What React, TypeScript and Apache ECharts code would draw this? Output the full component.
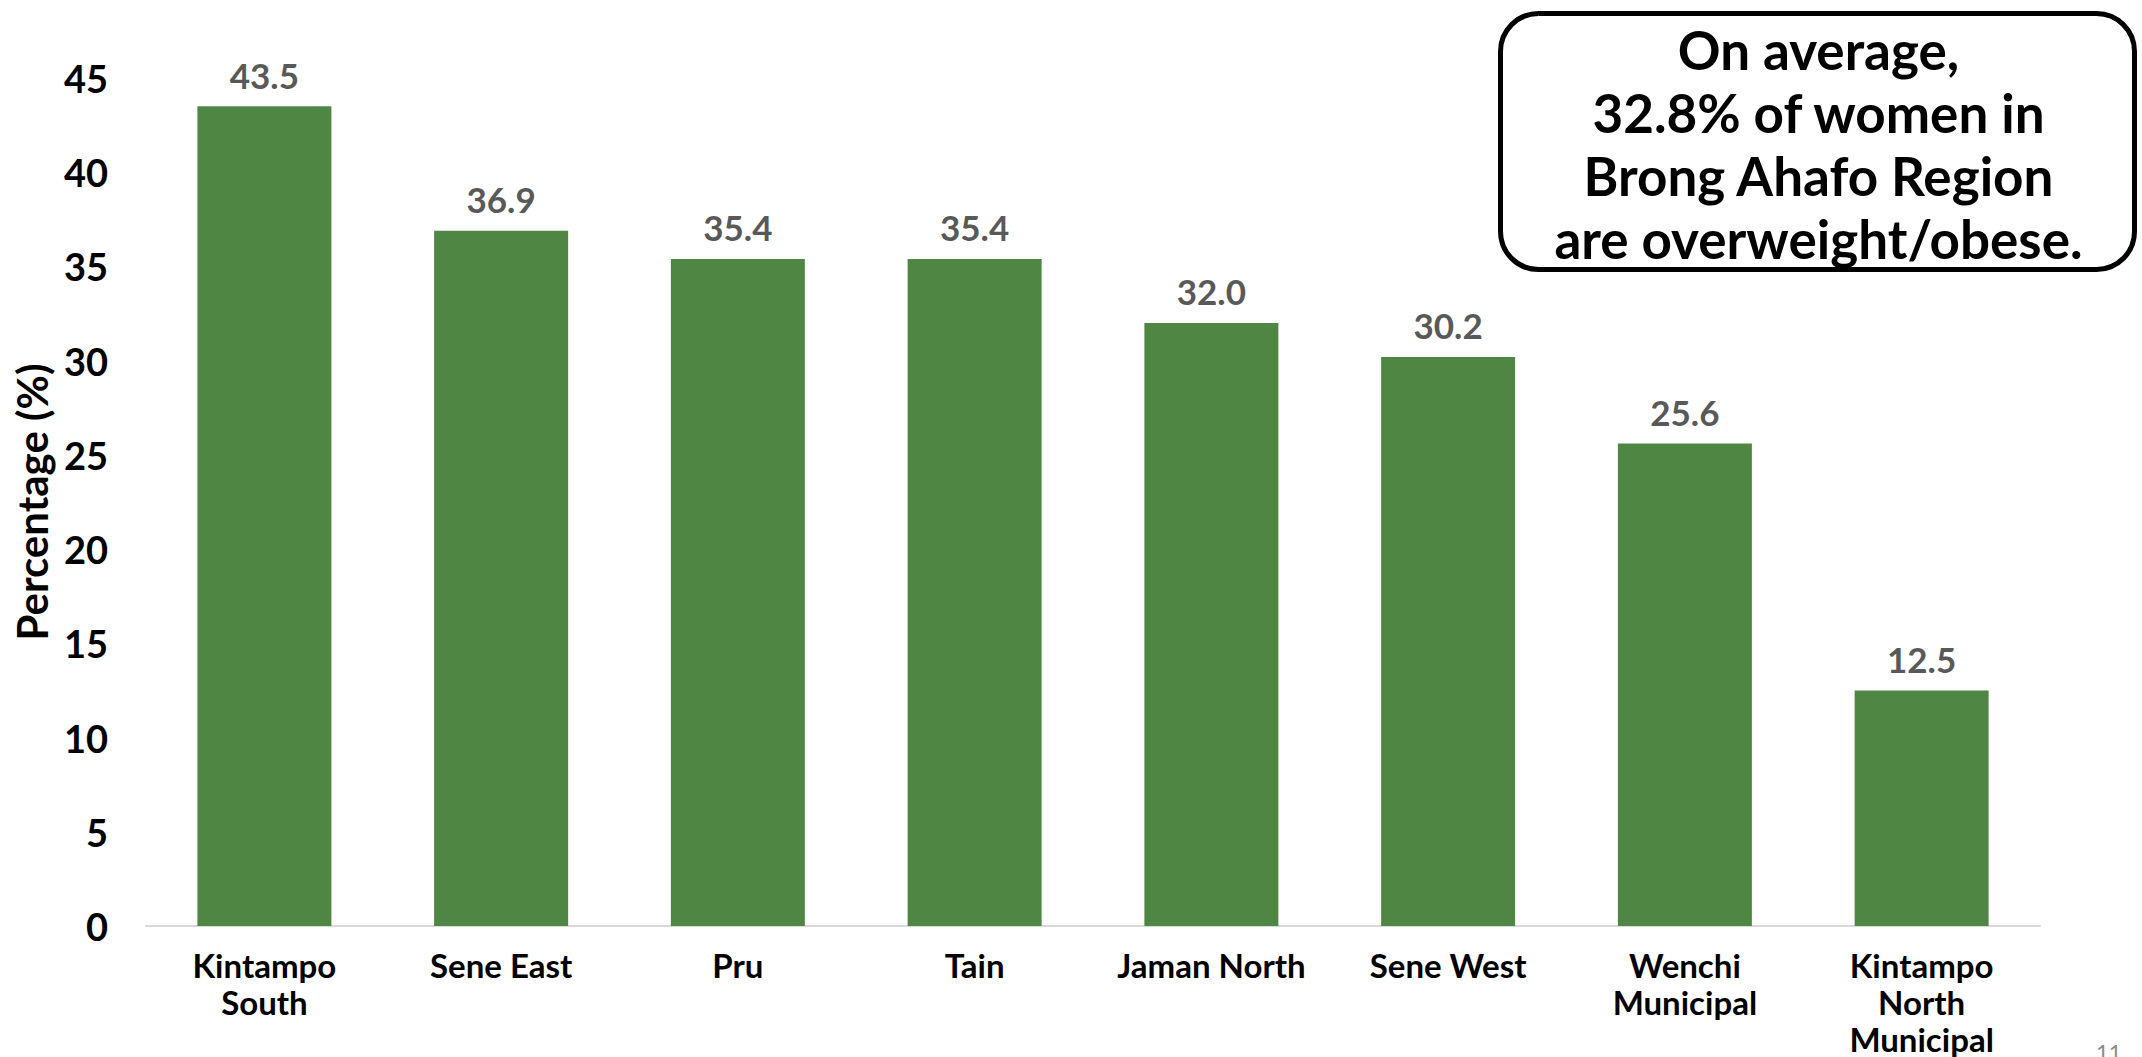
import React, { useEffect, useRef } from "react";
import * as echarts from "echarts";

const categories = [
  "Kintampo\nSouth",
  "Sene East",
  "Pru",
  "Tain",
  "Jaman North",
  "Sene West",
  "Wenchi\nMunicipal",
  "Kintampo\nNorth\nMunicipal",
];
const values = [43.5, 36.9, 35.4, 35.4, 32.0, 30.2, 25.6, 12.5];
const yAxisTitle = "Percentage (%)";
const calloutLines = [
  "On average,",
  "32.8% of women in",
  "Brong Ahafo Region",
  "are overweight/obese.",
];
const pageNumber = "11";

const FONT = "Lato, 'Open Sans', sans-serif";

export default function App() {
  const ref = useRef<HTMLDivElement>(null);
  useEffect(() => {
    if (!ref.current) return;
    const chart = echarts.init(ref.current, null, { renderer: "svg" });
    chart.setOption({
      animation: false,
      backgroundColor: "#ffffff",
      grid: { left: 146, right: 102, top: 78, bottom: 130, containLabel: false },
      xAxis: {
        type: "category",
        data: categories,
        axisLine: { show: true, lineStyle: { color: "#d9d9d9", width: 2 } },
        axisTick: { show: false },
        axisLabel: {
          interval: 0,
          margin: 20,
          color: "#000000",
          fontFamily: FONT,
          fontWeight: "bold",
          fontSize: 33,
          lineHeight: 37,
        },
      },
      yAxis: {
        type: "value",
        min: 0,
        max: 45,
        interval: 5,
        name: yAxisTitle,
        nameLocation: "middle",
        nameGap: 86,
        nameRotate: 90,
        nameTextStyle: {
          color: "#000000",
          fontFamily: FONT,
          fontWeight: "bold",
          fontSize: 42,
        },
        axisLine: { show: false },
        axisTick: { show: false },
        splitLine: { show: false },
        axisLabel: {
          margin: 38,
          color: "#000000",
          fontFamily: FONT,
          fontWeight: "bold",
          fontSize: 38,
        },
      },
      series: [
        {
          type: "bar",
          data: values,
          barCategoryGap: "43.4%",
          itemStyle: { color: "#4f8644" },
          label: {
            show: true,
            position: "top",
            distance: 14,
            color: "#595959",
            fontFamily: FONT,
            fontWeight: "bold",
            fontSize: 35,
            formatter: (p: any) => Number(p.value).toFixed(1),
          },
        },
      ],
      graphic: [
        {
          type: "group",
          left: 1498,
          top: 11,
          children: [
            {
              type: "rect",
              shape: { x: 0, y: 0, width: 634, height: 256, r: 38 },
              style: { fill: "#ffffff", stroke: "#000000", lineWidth: 5 },
            },
            {
              type: "text",
              x: 318,
              y: 4,
              style: {
                text: calloutLines.join("\n"),
                textAlign: "center",
                textVerticalAlign: "top",
                fill: "#000000",
                font: `bold 53px ${FONT}`,
                lineHeight: 63,
              },
            },
          ],
        },
        {
          type: "text",
          left: 2096,
          top: 1040,
          style: {
            text: pageNumber,
            fill: "#8c8c8c",
            font: `22px ${FONT}`,
          },
        },
      ],
    });
    return () => chart.dispose();
  }, []);
  return (
    <div
      ref={ref}
      style={{ position: "fixed", left: 0, top: 0, width: 2142, height: 1057 }}
    />
  );
}
